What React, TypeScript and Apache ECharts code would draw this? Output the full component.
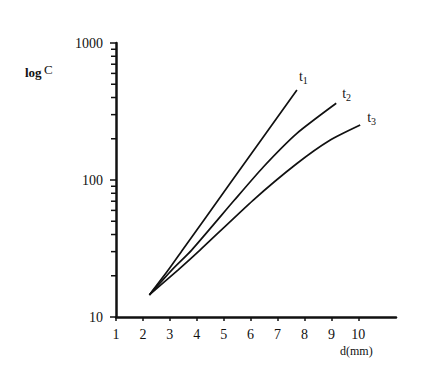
import React, { useEffect, useRef } from "react";
import * as echarts from "echarts";

const xTickValues = [1, 2, 3, 4, 5, 6, 7, 8, 9, 10];
const yMinorTicks = [20, 30, 40, 50, 60, 70, 80, 90, 200, 300, 400, 500, 600, 700, 800, 900];

const t1Data: [number, number][] = [
  [2.24, 14.5],
  [2.94, 22.0],
  [3.47, 30.8],
  [5.24, 94.6],
  [7.72, 454],
];
const t2Data: [number, number][] = [
  [2.24, 14.5],
  [3.07, 22.0],
  [3.81, 30.8],
  [5.4, 71.4],
  [6.48, 125],
  [7.72, 219],
  [9.18, 363],
];
const t3Data: [number, number][] = [
  [2.24, 14.5],
  [3.3, 22.0],
  [4.12, 30.8],
  [6.1, 71.4],
  [7.72, 132],
  [8.96, 196],
  [10.07, 252],
];

const seriesNames = ["t1", "t2", "t3"];
const seriesSubs = ["1", "2", "3"];

const INK = "#111";
const FONT = "'Liberation Serif', 'DejaVu Serif', serif";

export default function App() {
  const ref = useRef<HTMLDivElement>(null);
  useEffect(() => {
    if (!ref.current) return;
    const chart = echarts.init(ref.current, null, { renderer: "svg" });
    const datasets = [t1Data, t2Data, t3Data];
    const labelOffsets = [
      [-6, -13],
      [-2, -10],
      [-1, -8],
    ];
    const lineSeries = datasets.map((d, i) => ({
      name: seriesNames[i],
      type: "line",
      data: d,
      smooth: 0.2,
      showSymbol: false,
      symbol: "none",
      lineStyle: { color: INK, width: 1.7 },
      endLabel: {
        show: true,
        formatter: "t{s|" + seriesSubs[i] + "}",
        offset: labelOffsets[i],
        color: INK,
        fontFamily: FONT,
        fontSize: 14,
        rich: {
          s: { fontSize: 10, fontFamily: FONT, color: INK, padding: [8, 0, 0, 0] },
        },
      },
    }));
    chart.setOption({
      animation: false,
      backgroundColor: "#fff",
      grid: { left: 116, right: 35, top: 43, bottom: 69, containLabel: false },
      xAxis: {
        type: "value",
        min: 1,
        max: 11.4,
        interval: 1,
        splitLine: { show: false },
        axisLine: { onZero: false, lineStyle: { color: INK, width: 2.5 } },
        axisTick: { show: true, length: 4, customValues: xTickValues, lineStyle: { color: INK, width: 1.5 } },
        axisLabel: {
          customValues: xTickValues,
          color: INK,
          fontFamily: FONT,
          fontSize: 14,
          margin: 10,
        },
      },
      yAxis: {
        type: "log",
        logBase: 10,
        min: 10,
        max: 1000,
        splitLine: { show: false },
        axisLine: { lineStyle: { color: INK, width: 2.5 } },
        axisTick: { show: true, length: 6, lineStyle: { color: INK, width: 1.5 } },
        axisLabel: {
          color: INK,
          fontFamily: FONT,
          fontSize: 14,
          margin: 13,
          formatter: (v: number) => String(Math.round(v)),
        },
        minorTick: { show: false },
      },
      graphic: [
        {
          type: "text",
          left: 25,
          top: 66,
          style: {
            text: "log",
            fontFamily: FONT,
            fontSize: 13,
            fontWeight: "bold",
            fill: INK,
          },
        },
        {
          type: "text",
          left: 44,
          top: 63,
          style: { text: "C", fontFamily: FONT, fontSize: 13, fill: INK },
        },
        {
          type: "text",
          left: 340,
          top: 345,
          style: { text: "d(mm)", fontFamily: FONT, fontSize: 12, fill: INK },
        },
      ],
      series: [
        ...lineSeries,
        {
          type: "custom",
          silent: true,
          clip: false,
          data: yMinorTicks.map((v) => [1, v]),
          renderItem: (_params: any, api: any) => {
            const p = api.coord([api.value(0), api.value(1)]);
            return {
              type: "line",
              shape: { x1: p[0] - 5, y1: p[1], x2: p[0], y2: p[1] },
              style: { stroke: INK, lineWidth: 1.5 },
            };
          },
        },
      ],
    });
    return () => chart.dispose();
  }, []);
  return (
    <div
      ref={ref}
      style={{ position: "fixed", left: 0, top: 0, width: 431, height: 386, background: "#fff" }}
    />
  );
}
